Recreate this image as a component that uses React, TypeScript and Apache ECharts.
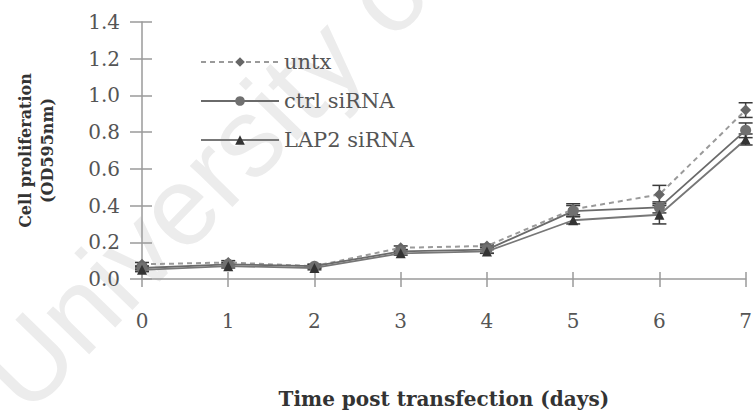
import React, { useEffect, useRef } from "react";
import * as echarts from "echarts";

// Days after transfection
const days = [0, 1, 2, 3, 4, 5, 6, 7];

// Mean OD595 readings per group
const untx = [0.08, 0.09, 0.07, 0.17, 0.18, 0.38, 0.46, 0.92];
const ctrlSiRNA = [0.06, 0.08, 0.07, 0.15, 0.16, 0.37, 0.39, 0.81];
const lap2SiRNA = [0.05, 0.07, 0.06, 0.14, 0.15, 0.32, 0.35, 0.76];

// Standard deviations per group
const untxErr = [0.01, 0.01, 0.01, 0.01, 0.01, 0.03, 0.05, 0.04];
const ctrlErr = [0.01, 0.01, 0.01, 0.01, 0.02, 0.03, 0.03, 0.04];
const lap2Err = [0.01, 0.01, 0.01, 0.01, 0.01, 0.02, 0.05, 0.03];

const SERIF = "'DejaVu Serif', 'Liberation Serif', serif";
const AXIS_GRAY = "#9a9a9a";
const TEXT_GRAY = "#555";

function errorData(vals: number[], errs: number[]) {
  return days.map((d, i) => [d, vals[i] - errs[i], vals[i] + errs[i]]);
}

function errorBars(name: string, vals: number[], errs: number[]) {
  return {
    type: "custom",
    name: name + " err",
    data: errorData(vals, errs),
    encode: { x: 0, y: [1, 2] },
    z: 3,
    silent: true,
    clip: false,
    renderItem: (_params: any, api: any) => {
      const lo = api.coord([api.value(0), api.value(1)]);
      const hi = api.coord([api.value(0), api.value(2)]);
      const w = 7;
      const style = { stroke: "#3a3a3a", lineWidth: 1.5 };
      return {
        type: "group",
        children: [
          { type: "line", shape: { x1: lo[0], y1: lo[1], x2: hi[0], y2: hi[1] }, style },
          { type: "line", shape: { x1: lo[0] - w, y1: lo[1], x2: lo[0] + w, y2: lo[1] }, style },
          { type: "line", shape: { x1: hi[0] - w, y1: hi[1], x2: hi[0] + w, y2: hi[1] }, style },
        ],
      };
    },
  };
}

export default function App() {
  const ref = useRef<HTMLDivElement>(null);

  useEffect(() => {
    if (!ref.current) return;
    const chart = echarts.init(ref.current, undefined, { renderer: "svg" });

    chart.setOption({
      animation: false,
      backgroundColor: "#fff",
      grid: { left: 142, right: 4, top: 22, bottom: 127, containLabel: false },
      graphic: [
        {
          type: "text",
          x: 40,
          y: 430,
          rotation: 0.8,
          z: -10,
          silent: true,
          style: {
            text: "University of",
            font: "112px 'Liberation Sans', Arial, sans-serif",
            fill: "#ececec",
            textAlign: "left",
            textVerticalAlign: "bottom",
          },
        },
      ],
      legend: {
        orient: "vertical",
        left: 195,
        top: 45,
        itemWidth: 78,
        itemHeight: 12,
        itemGap: 15,
        data: ["untx", "ctrl siRNA", "LAP2 siRNA"],
        textStyle: { fontFamily: SERIF, fontSize: 21, color: TEXT_GRAY, lineHeight: 24 },
      },
      xAxis: [
        {
          type: "value",
          min: 0,
          max: 7,
          interval: 1,
          name: "Time post transfection (days)",
          nameLocation: "middle",
          nameGap: 110,
          nameTextStyle: { fontFamily: SERIF, fontWeight: "bold", fontSize: 20, color: "#333" },
          axisLine: { show: true, onZero: false, lineStyle: { color: AXIS_GRAY, width: 1.5 } },
          axisTick: { show: true, length: 8, lineStyle: { color: AXIS_GRAY, width: 1.5 } },
          axisLabel: {
            margin: 32,
            fontFamily: SERIF,
            fontSize: 20,
            color: TEXT_GRAY,
            showMaxLabel: true,
          },
          splitLine: { show: false },
        },
        {
          type: "value",
          min: 0,
          max: 7,
          interval: 1,
          position: "bottom",
          axisLine: { show: false },
          axisTick: { show: true, inside: true, length: 7, lineStyle: { color: AXIS_GRAY, width: 1.5 } },
          axisLabel: { show: false },
          splitLine: { show: false },
        },
      ],
      yAxis: [
        {
          type: "value",
          min: 0,
          max: 1.4,
          interval: 0.2,
          name: "Cell proliferation\n(OD595nm)",
          nameLocation: "middle",
          nameGap: 84,
          nameTextStyle: { fontFamily: SERIF, fontWeight: "bold", fontSize: 16, color: "#333", lineHeight: 22 },
          axisLine: { show: true, onZero: false, lineStyle: { color: AXIS_GRAY, width: 1.5 } },
          axisTick: { show: true, length: 12, lineStyle: { color: AXIS_GRAY, width: 1.5 } },
          axisLabel: {
            margin: 22,
            fontFamily: SERIF,
            fontSize: 20,
            color: TEXT_GRAY,
            formatter: (v: number) => v.toFixed(1),
          },
          splitLine: { show: false },
        },
        {
          type: "value",
          min: 0,
          max: 1.4,
          interval: 0.2,
          position: "left",
          axisLine: { show: false },
          axisTick: { show: true, inside: true, length: 10, lineStyle: { color: AXIS_GRAY, width: 1.5 } },
          axisLabel: { show: false },
          splitLine: { show: false },
        },
      ],
      series: [
        {
          name: "untx",
          type: "line",
          data: days.map((d, i) => [d, untx[i]]),
          symbol: "diamond",
          symbolSize: 11,
          z: 4,
          clip: false,
          lineStyle: { color: "#9a9a9a", width: 2, type: [5, 4] },
          itemStyle: { color: "#666" },
        },
        {
          name: "ctrl siRNA",
          type: "line",
          data: days.map((d, i) => [d, ctrlSiRNA[i]]),
          symbol: "circle",
          symbolSize: 11,
          z: 4,
          clip: false,
          lineStyle: { color: "#6a6a6a", width: 1.8 },
          itemStyle: { color: "#707070" },
        },
        {
          name: "LAP2 siRNA",
          type: "line",
          data: days.map((d, i) => [d, lap2SiRNA[i]]),
          symbol: "triangle",
          symbolSize: 10,
          z: 4,
          clip: false,
          lineStyle: { color: "#777", width: 1.8 },
          itemStyle: { color: "#333" },
        },
        errorBars("untx", untx, untxErr),
        errorBars("ctrl siRNA", ctrlSiRNA, ctrlErr),
        errorBars("LAP2 siRNA", lap2SiRNA, lap2Err),
      ],
    });

    return () => chart.dispose();
  }, []);

  return (
    <div
      ref={ref}
      style={{ position: "absolute", left: 0, top: 0, width: 755, height: 414, background: "#fff" }}
    />
  );
}
